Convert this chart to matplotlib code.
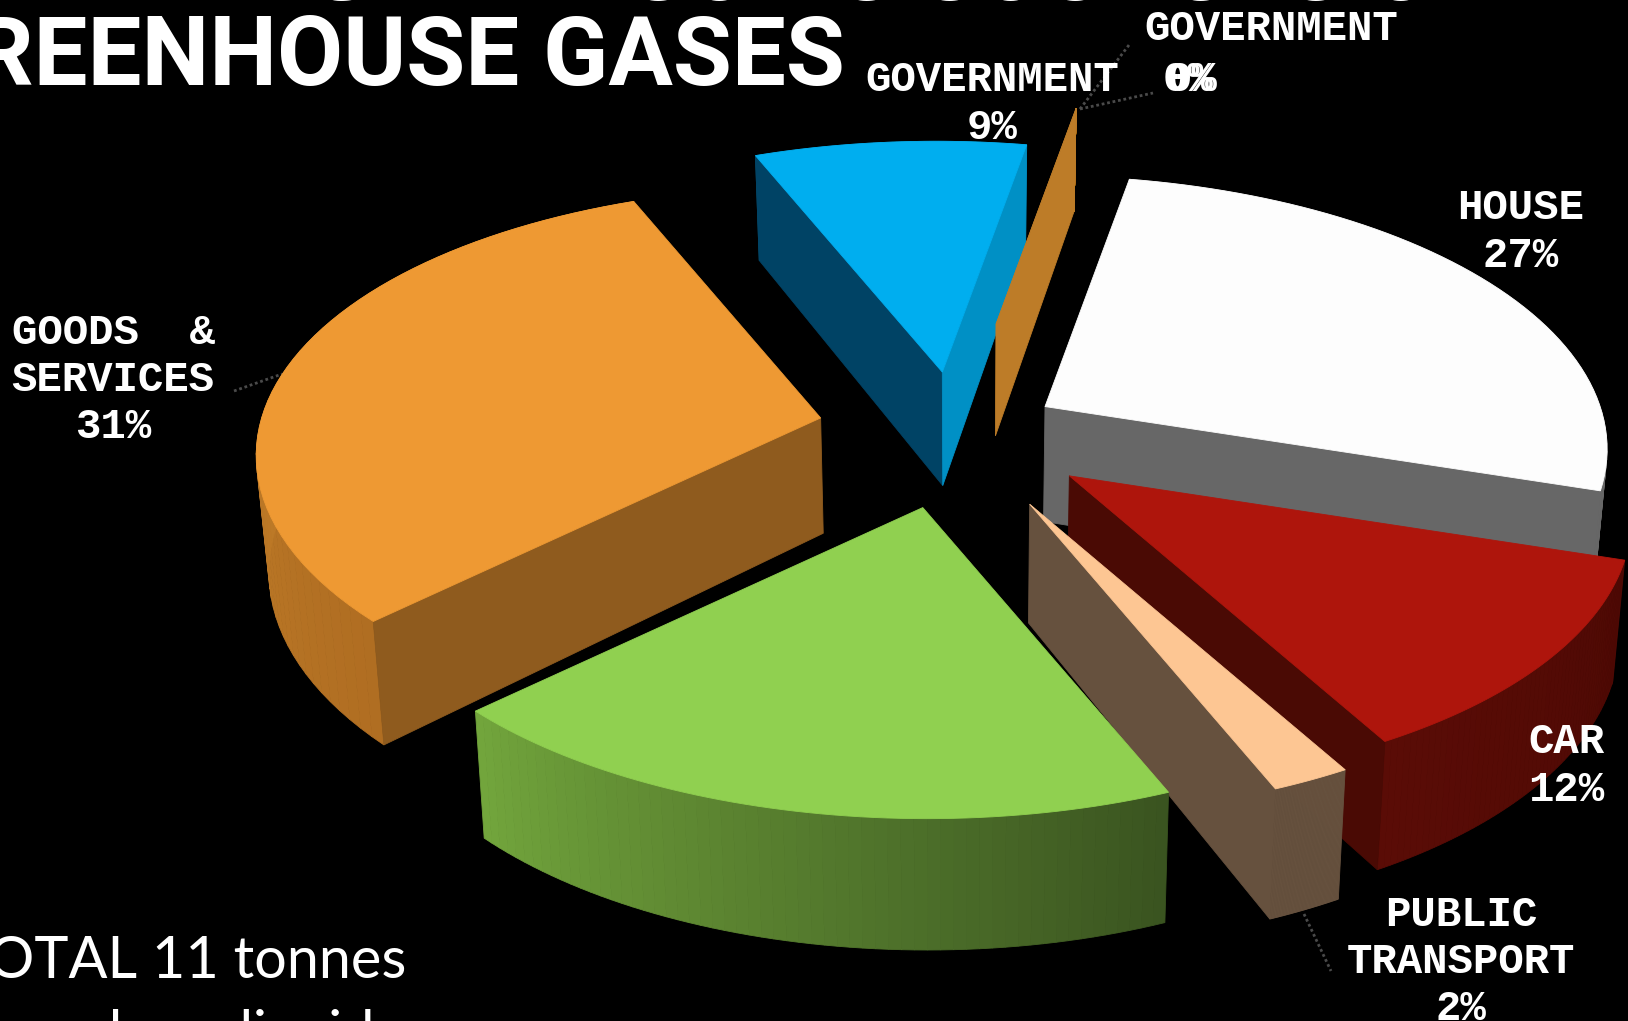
import numpy as np
import matplotlib
matplotlib.use("Agg")
import matplotlib.pyplot as plt
from matplotlib.colors import to_rgb

# slices, clockwise from the house wedge (the green one has no readable label)
names = ["HOUSE", "CAR", "PUBLIC\nTRANSPORT", "", "GOODS  &\nSERVICES", "GOVERNMENT", "GOVERNMENT"]
values = [27, 12, 2, 19, 31, 9, 0]
explode = [0.19, 0.255, 0.29, 0.28, 0.25, 0.235, 0.44]
radius = [1, 1, 1, 1, 1, 1, 0.95]

top_colors = ["#fdfdfd", "#ae150c", "#fdc693", "#90d050", "#ee9933", "#00aeef", "#bd7c28"]
start_wall = [None, None, None, None, "#8f5b1e", "#004365", None]
end_wall = ["#676767", "#4a0a04", "#66513e", None, None, "#0090c5", "#bd7c28"]
outer_from = ["#676767", "#4d0904", "#66513e", "#3a5420", "#b06e22", "#005070", "#bd7c28"]
outer_to = ["#676767", "#5a0c06", "#66513e", "#72a53c", "#d08a2e", "#005070", "#bd7c28"]
draw_order = [4, 5, 6, 0, 1, 2, 3]

label_x = [1521, 1566, 1461, 0, 113, 992, 1271]
label_y = [232, 766, 962, 0, 380, 104, 29]

title_lines = ["AVERAGE PERSON'S SOURCES OF", "GREENHOUSE GASES"]
body_lines = ["TOTAL 11 tonnes", "carbon dioxide"]

# tilted pie plane -> picture, fitted by eye to the wedge edges
PHI = np.radians(144.4)
M = np.array([[-389.79, -397.97], [-191.10, 183.62]])
PERSP = np.array([0.1044, -0.1051])
CENTER = np.array([956.0, 432.0])


def project(theta, r=1.0):
    p = r * np.array([np.sin(theta + PHI), np.cos(theta + PHI)])
    return M @ p / (1 + PERSP @ p)


def lower(pts):
    pts = np.atleast_2d(pts)
    dx = -0.018 * (pts[:, 0] - 965)
    dy = 98.6 + 0.04 * pts[:, 1]
    return pts + np.column_stack([dx, dy])


def wall(ax, a, b, color, z):
    quad = np.vstack([a, b, lower(b), lower(a)])
    ax.fill(quad[:, 0], quad[:, 1], color=color, lw=0.6, zorder=z)


fig = plt.figure(figsize=(16.28, 10.21), dpi=100, facecolor="black")
ax = fig.add_axes([0, 0, 1, 1])
ax.set_xlim(0, 1628)
ax.set_ylim(1021, 0)
ax.axis("off")

cum = np.radians(np.cumsum([0] + values) * 3.6)
for n, i in enumerate(draw_order):
    t0, t1 = cum[i], cum[i + 1]
    apex = CENTER + project((t0 + t1) / 2, explode[i])
    ts = np.linspace(t0, t1, 60)
    arc = apex + radius[i] * np.array([project(t) for t in ts])
    z = 2 + n * 2

    # outer rim first, the flat cut faces go over it
    c0, c1 = np.array(to_rgb(outer_from[i])), np.array(to_rgb(outer_to[i]))
    for j in range(len(arc) - 1):
        wall(ax, arc[j], arc[j + 1], c0 + (c1 - c0) * j / (len(arc) - 2), z)
    if start_wall[i]:
        wall(ax, apex, arc[0], start_wall[i], z)
    if end_wall[i]:
        wall(ax, apex, arc[-1], end_wall[i], z)

    top = np.vstack([apex, arc])
    ax.fill(top[:, 0], top[:, 1], color=top_colors[i], lw=0.6, zorder=z + 1)

# slice labels
for i, name in enumerate(names):
    if not name:
        continue
    # the 0% sits apart from its name further down
    text = name if values[i] == 0 else f"{name}\n{values[i]}%"
    ax.text(label_x[i], label_y[i], text, color="white", fontsize=30.5,
            family="Liberation Mono", weight="bold", ha="center", va="center",
            linespacing=1.23, zorder=30)
# printed twice, slightly off, in the source
for dx in (-2, 2):
    ax.text(1190 + dx, 80, f"{values[6]}%", color="white", fontsize=30.5, family="Liberation Mono",
            weight="bold", ha="center", va="center", zorder=30)

# leader lines
leaders = [[(234, 391), (282, 374)], [(1080, 109), (1129, 45)], [(1080, 109), (1153, 93)], [(1304, 914), (1331, 971)]]
for (x0, y0), (x1, y1) in leaders:
    ax.plot([x0, x1], [y0, y1], color="#4a4a4a", lw=2, ls=(0, (1, 1)), zorder=1)

ax.text(1487, 0, title_lines[0], color="white", fontsize=69, family="Roboto", weight="bold",
        ha="right", va="baseline", zorder=40)
ax.text(845, 85, title_lines[1], color="white", fontsize=69, family="Roboto", weight="bold",
        ha="right", va="baseline", zorder=40)
ax.text(406, 978, body_lines[0], color="white", fontsize=41.5, family="Lato", ha="right", va="baseline", zorder=40)
ax.text(32, 1052, body_lines[1], color="white", fontsize=41.5, family="Lato", ha="left", va="baseline", zorder=40)

fig.savefig("out.png", dpi=100, facecolor="black")
